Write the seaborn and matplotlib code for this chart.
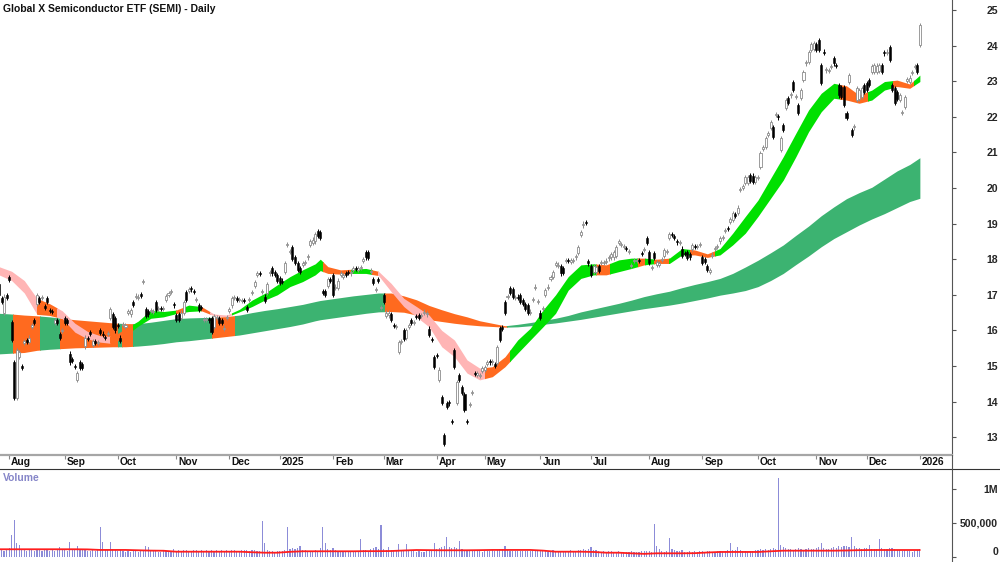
import numpy as np
import pandas as pd
import matplotlib
matplotlib.use("Agg")
import matplotlib.pyplot as plt
from matplotlib.patches import Rectangle
from matplotlib.lines import Line2D
import seaborn as sns

# --- Datos ---
title = "Global X Semiconductor ETF (SEMI) - Daily"

holidays = ['2024-12-25', '2024-12-26', '2025-01-01', '2025-01-27', '2025-04-18',
            '2025-04-21', '2025-04-25', '2025-06-09', '2025-12-25', '2025-12-26', '2026-01-01']

month_labels = ['Aug', 'Sep', 'Oct', 'Nov', 'Dec', '2025', 'Feb', 'Mar', 'Apr', 'May', 'Jun',
                'Jul', 'Aug', 'Sep', 'Oct', 'Nov', 'Dec', '2026']

opens = [
    17.30, 16.90, 16.50, 17.00,
    17.50, 16.24, 15.10, 14.10, 15.25, 15.00, 15.65, 15.72, 15.68, 16.10, 16.30, 16.75, 16.90, 16.90, 16.68, 16.90, 16.58, 16.55, 16.20, 16.30, 15.90, 15.98,
    16.35, 16.30, 15.35, 15.20, 15.00, 14.60, 15.10, 15.05, 15.55, 15.78, 15.95, 15.60, 15.70, 15.65, 16.00, 15.90, 15.80, 15.90, 16.35, 16.45, 16.35,
    16.15, 15.80, 16.15, 16.10, 16.50, 16.45, 16.80, 16.95, 16.90, 17.00, 17.35, 16.60, 16.55, 16.55, 16.52, 16.80, 16.60, 16.62, 16.60, 16.85, 17.00, 17.08, 16.72,
    16.43, 16.45, 16.35, 16.50, 17.07, 17.10, 17.20, 17.10, 16.85, 16.70, 16.63, 16.30, 16.30, 16.30, 16.35, 16.10, 16.35, 16.35, 16.30, 16.05, 16.35,
    16.55, 16.70, 16.90, 16.90, 16.85, 16.82, 16.85, 16.65, 16.85, 17.05, 17.25, 17.55, 17.60, 17.08, 16.95, 17.05, 17.60, 17.75, 17.65, 17.55,
    17.47, 17.40, 17.65, 18.40, 18.20, 18.35, 18.05, 17.90, 17.75, 17.85, 17.90, 18.05, 18.40, 18.45, 18.50, 18.80, 18.75, 17.10, 17.10, 17.25, 17.45,
    17.55, 17.20, 17.20, 17.55, 17.50, 17.60, 17.65, 17.60, 17.70, 17.75, 17.70, 17.75, 17.95, 18.20, 18.20, 17.65, 17.45, 17.13, 17.42, 16.63,
    17.00, 16.40, 16.42, 16.45, 16.15, 16.10, 15.40, 15.67, 16.00, 15.80, 16.10, 16.30, 16.20, 16.40, 16.43, 16.40, 16.50, 16.45, 16.05, 15.73, 15.25,
    15.30, 14.60, 14.13, 13.06, 13.96, 13.96, 13.45, 15.45, 13.96, 14.75, 14.40, 14.20, 13.45, 13.90, 14.24, 14.80, 14.75, 14.72, 14.85,
    14.90, 15.05, 15.12, 15.10, 15.05, 15.08, 16.07, 16.10, 16.80, 16.94, 17.20, 17.15, 16.90, 16.95, 17.00, 16.85, 16.75, 16.70, 16.50, 16.85, 17.20, 16.80,
    16.50, 16.60, 17.00, 17.20, 17.45, 17.50, 17.85, 17.80, 17.80, 17.75, 17.95, 17.98, 17.93, 17.95, 18.05, 18.17, 18.68, 18.95, 19.05, 17.95,
    17.80, 17.65, 17.65, 17.80, 17.90, 17.90, 17.93, 18.02, 18.05, 18.05, 18.10, 18.45, 18.40, 18.35, 18.32, 18.20, 17.80, 17.95, 17.95, 17.98, 18.17, 18.25, 18.60,
    18.20, 17.75, 18.18, 17.85, 17.85, 17.97, 18.10, 18.20, 18.60, 18.70, 18.65, 18.48, 18.45, 18.30, 18.17, 18.20, 18.15, 18.30, 18.38, 18.35, 18.40,
    18.05, 18.00, 17.80, 17.65, 18.10, 18.28, 18.35, 18.50, 18.60, 18.80, 18.87, 19.05, 19.10, 19.26, 19.30, 19.94, 20.00, 20.14, 20.15, 20.37, 20.35, 20.17,
    20.28, 20.59, 21.10, 21.15, 21.50, 21.68, 21.70, 22.05, 22.00, 21.07, 21.77, 22.25, 22.53, 22.60, 22.98, 22.55, 22.33, 22.53, 23.03, 23.50, 23.54, 23.87, 23.90,
    24.05, 24.16, 23.45, 23.82, 23.30, 23.28, 23.40, 23.65, 23.45, 22.90, 22.84, 22.84, 22.10, 22.98, 21.63, 21.70, 22.47, 22.50, 22.55, 22.90,
    22.95, 23.03, 23.26, 23.27, 23.26, 23.28, 23.45, 23.80, 23.80, 23.96, 22.90, 22.80, 22.70, 22.47, 22.10, 22.27, 23.00, 22.98, 23.23, 23.40, 23.45,
    24.02,
]

closes = [
    17.00, 16.80, 16.95, 16.90,
    17.42, 15.73, 14.10, 15.45, 15.40, 14.95, 15.70, 15.68, 15.80, 16.15, 16.20, 17.00, 16.80, 16.92, 16.64, 16.80, 16.55, 16.52, 16.30, 16.20, 15.80, 16.02,
    16.20, 16.20, 15.10, 15.15, 14.97, 14.80, 14.95, 14.95, 15.80, 15.75, 15.90, 15.70, 15.65, 15.68, 15.93, 15.88, 15.78, 15.92, 16.60, 16.10, 16.00,
    16.12, 15.70, 16.15, 16.15, 16.55, 16.57, 16.72, 16.95, 16.95, 16.98, 17.35, 16.40, 16.45, 16.55, 16.55, 16.57, 16.60, 16.60, 16.62, 16.97, 17.05, 17.08, 16.70,
    16.30, 16.30, 16.50, 16.80, 16.85, 17.15, 17.15, 17.07, 16.85, 16.57, 16.62, 16.30, 16.32, 16.28, 15.95, 16.40, 16.35, 16.20, 16.22, 16.05, 16.35,
    16.60, 16.90, 16.92, 16.85, 16.88, 16.85, 16.82, 16.58, 16.88, 17.08, 17.35, 17.60, 17.58, 17.10, 16.82, 17.30, 17.62, 17.60, 17.55, 17.38,
    17.33, 17.35, 17.90, 18.42, 18.22, 18.00, 17.90, 17.70, 17.65, 17.90, 17.92, 18.05, 18.50, 18.55, 18.70, 18.65, 18.60, 17.05, 17.00, 17.45, 17.40,
    17.00, 17.22, 17.40, 17.60, 17.55, 17.55, 17.62, 17.65, 17.75, 17.72, 17.75, 17.78, 18.00, 18.05, 18.03, 17.65, 17.33, 17.13, 17.40, 16.65,
    16.80, 16.50, 16.50, 16.30, 16.12, 16.12, 15.67, 15.70, 15.75, 16.00, 16.15, 16.20, 16.22, 16.38, 16.35, 16.42, 16.50, 16.47, 15.87, 15.72, 14.97,
    15.28, 14.90, 13.97, 12.80, 13.85, 13.95, 13.42, 14.97, 14.55, 14.60, 14.25, 13.77, 13.43, 13.92, 14.25, 14.78, 14.80, 14.75, 14.95,
    14.98, 15.10, 15.10, 15.15, 15.00, 15.53, 15.73, 16.05, 16.50, 16.95, 17.05, 16.95, 16.92, 16.90, 16.80, 16.75, 16.60, 16.50, 16.52, 16.87, 17.22, 16.80,
    16.35, 16.62, 17.13, 17.22, 17.50, 17.65, 17.90, 17.85, 17.60, 17.62, 17.97, 17.95, 17.97, 17.95, 18.06, 18.35, 18.75, 19.00, 19.02, 17.88,
    17.55, 17.80, 17.78, 17.68, 17.90, 17.92, 17.95, 18.03, 18.15, 18.20, 18.35, 18.50, 18.42, 18.35, 18.28, 18.20, 17.80, 17.95, 17.97, 17.95, 18.15, 18.27, 18.45,
    17.90, 17.75, 18.03, 17.92, 17.90, 17.98, 18.25, 18.20, 18.70, 18.68, 18.60, 18.47, 18.48, 18.10, 18.15, 18.03, 18.05, 18.40, 18.35, 18.38, 18.42,
    17.90, 17.92, 17.70, 17.70, 18.12, 18.30, 18.35, 18.60, 18.62, 18.80, 18.85, 19.12, 19.30, 19.22, 19.45, 19.95, 20.05, 20.30, 20.30, 20.20, 20.17, 20.30,
    20.30, 20.98, 21.15, 21.40, 21.55, 21.85, 21.43, 22.05, 21.98, 21.40, 21.63, 22.47, 22.40, 22.62, 22.75, 22.55, 22.10, 22.75, 23.25, 23.54, 23.82, 24.05, 24.07,
    23.88, 23.87, 22.95, 23.80, 23.35, 23.30, 23.42, 23.50, 23.42, 22.60, 22.55, 22.33, 21.97, 23.17, 21.50, 21.72, 22.80, 22.75, 22.80, 22.70,
    22.75, 22.90, 23.42, 23.45, 23.44, 23.45, 23.26, 23.78, 23.82, 23.60, 22.75, 22.40, 22.50, 22.60, 22.10, 22.55, 23.05, 23.10, 23.25, 23.40, 23.26,
    24.58,
]

# volumen diario en miles
volume_k = [
    95, 110, 85, 115,
    135, 320, 542, 197, 172, 115, 100, 85, 105, 95, 90, 110, 95, 85, 100, 105, 90, 95, 85, 100, 140, 110,
    95, 90, 222, 115, 105, 164, 100, 95, 110, 85, 90, 95, 80, 100, 443, 222, 105, 95, 212, 115, 100,
    85, 100, 80, 75, 90, 70, 85, 80, 75, 95, 85, 164, 145, 90, 80, 85, 70, 75, 80, 85, 70, 75, 120,
    90, 100, 85, 95, 105, 90, 85, 100, 95, 90, 105, 85, 95, 90, 100, 85, 95, 90, 100, 85, 95,
    90, 100, 95, 85, 90, 100, 95, 105, 90, 95, 100, 85, 90, 527, 197, 95, 85, 80, 75, 90,
    85, 90, 105, 433, 115, 125, 110, 135, 164, 100, 95, 85, 90, 80, 95, 85, 125, 433, 208, 115, 100,
    135, 95, 85, 80, 75, 85, 80, 70, 75, 85, 80, 261, 95, 105, 90, 115, 125, 149, 110, 468,
    120, 105, 143, 95, 90, 85, 183, 100, 95, 183, 90, 80, 85, 75, 80, 70, 75, 85, 100, 105, 197,
    115, 135, 145, 164, 286, 140, 125, 149, 130, 237, 120, 105, 95, 100, 90, 85, 80, 85, 75,
    85, 80, 90, 95, 85, 95, 115, 110, 164, 100, 85, 90, 80, 85, 90, 80, 85, 90, 80, 85, 90, 85,
    90, 80, 85, 75, 90, 95, 80, 85, 90, 75, 80, 85, 95, 90, 80, 100, 105, 110, 95, 115,
    149, 95, 100, 85, 75, 80, 75, 85, 80, 75, 70, 80, 75, 70, 65, 75, 80, 70, 65, 75, 85, 80, 90,
    85, 75, 478, 164, 115, 85, 75, 80, 272, 115, 100, 85, 80, 95, 70, 75, 80, 70, 85, 75, 80,
    90, 75, 85, 80, 70, 75, 85, 80, 75, 90, 95, 208, 105, 95, 139, 100, 85, 80, 75, 85, 90, 95,
    100, 115, 105, 110, 95, 120, 125, 115, 1170, 175, 139, 125, 115, 110, 105, 120, 125, 110, 100, 115, 125, 110, 120,
    135, 145, 197, 125, 115, 120, 130, 140, 125, 155, 150, 165, 160, 145, 286, 155, 135, 125, 120, 130,
    125, 173, 120, 115, 110, 257, 125, 120, 115, 135, 125, 110, 105, 100, 85, 95, 90, 80, 75, 85, 95,
    120,
]

# bandas de medias (bordes leidos cada ~5 sesiones)
band_idx = sorted(list(range(0, 365, 5)) + [127, 364])

short_hi = [17.79, 17.66, 17.40, 16.90, 16.75, 16.55, 16.20, 15.97, 15.85, 15.83, 16.05, 16.26, 16.57,
            16.53, 16.57, 16.71, 16.67, 16.46, 16.43, 16.59, 16.85, 17.04, 17.28, 17.51, 17.70, 17.87,
            18.00, 17.79, 17.70, 17.72, 17.74, 17.66, 17.32, 16.90, 16.67, 16.43, 16.00, 15.73, 15.17,
            14.94, 14.98, 15.26, 15.73, 16.06, 16.57, 17.00, 17.51, 17.84, 17.87, 17.84, 17.98, 18.03,
            18.03, 18.00, 18.03, 18.30, 18.26, 18.15, 18.30, 18.73, 19.20, 19.66, 20.27, 20.88, 21.54,
            22.19, 22.66, 22.94, 22.87, 22.61, 22.75, 22.99, 23.03, 22.92, 23.17]
short_lo = [17.56, 17.40, 17.05, 16.45, 16.42, 16.33, 15.95, 15.76, 15.67, 15.63, 15.85, 16.12, 16.34,
            16.38, 16.47, 16.53, 16.55, 16.41, 16.38, 16.52, 16.67, 16.85, 17.00, 17.23, 17.37, 17.56,
            17.68, 17.60, 17.58, 17.60, 17.60, 17.54, 17.09, 16.67, 16.38, 16.10, 15.54, 15.26, 14.80,
            14.61, 14.70, 14.98, 15.36, 15.73, 16.10, 16.48, 17.13, 17.46, 17.56, 17.56, 17.65, 17.74,
            17.84, 17.88, 17.88, 18.12, 18.12, 18.05, 18.12, 18.40, 18.73, 19.20, 19.71, 20.22, 20.88,
            21.58, 22.14, 22.52, 22.47, 22.38, 22.47, 22.75, 22.85, 22.80, 22.99]
long_hi = [16.48, 16.46, 16.43, 16.41, 16.38, 16.34, 16.30, 16.27, 16.24, 16.21, 16.19, 16.19, 16.23,
           16.28, 16.33, 16.35, 16.36, 16.37, 16.39, 16.43, 16.50, 16.56, 16.61, 16.67, 16.73, 16.81,
           16.84, 16.87, 16.92, 16.97, 17.01, 17.05, 17.05, 16.97, 16.86, 16.70, 16.58, 16.47, 16.38,
           16.27, 16.20, 16.13, 16.17, 16.22, 16.28, 16.34, 16.42, 16.52, 16.60, 16.68, 16.76, 16.85,
           16.95, 17.03, 17.10, 17.20, 17.29, 17.37, 17.46, 17.60, 17.78, 17.97, 18.18, 18.40, 18.67,
           18.93, 19.22, 19.47, 19.70, 19.87, 20.02, 20.25, 20.48, 20.66, 20.85]
long_lo = [15.34, 15.36, 15.38, 15.44, 15.47, 15.49, 15.51, 15.52, 15.53, 15.54, 15.54, 15.56, 15.59,
           15.63, 15.68, 15.71, 15.75, 15.79, 15.83, 15.87, 15.93, 15.99, 16.05, 16.11, 16.18, 16.27,
           16.30, 16.33, 16.38, 16.43, 16.48, 16.52, 16.53, 16.51, 16.43, 16.30, 16.25, 16.20, 16.16,
           16.13, 16.11, 16.09, 16.10, 16.13, 16.17, 16.21, 16.26, 16.31, 16.37, 16.43, 16.49, 16.55,
           16.61, 16.66, 16.71, 16.77, 16.84, 16.91, 16.99, 17.05, 17.12, 17.23, 17.40, 17.60, 17.85,
           18.09, 18.35, 18.58, 18.77, 18.96, 19.13, 19.28, 19.45, 19.62, 19.71]

# media del volumen (linea roja), en miles
vol_ma_k = [110, 110, 110, 110, 110, 110, 110, 108, 100, 100, 100, 95, 90, 88, 74, 74, 74, 74, 74, 74,
            66, 59, 59, 72, 80, 80, 80, 80, 80, 80, 82, 82, 84, 92, 99, 97, 95, 95, 95, 97, 100, 100,
            100, 100, 90, 74, 74, 74, 70, 59, 59, 50, 42, 50, 50, 50, 52, 62, 70, 70, 70, 70, 80, 89,
            89, 89, 89, 89, 92, 97, 99, 99, 99, 99, 99]

# tramos de color de las bandas (sesion inicio, sesion fin, tipo)
short_segments = [(-1, 15, 'down'), (15, 23, 'mix'), (23, 44, 'down'), (44, 53, 'mix'), (53, 70, 'up'),
                  (70, 73, 'mix'), (73, 80, 'up'), (80, 83.5, 'mix'), (83.5, 92, 'down'), (92, 128, 'up'),
                  (128, 139, 'mix'), (139, 147.5, 'up'), (147.5, 150, 'mix'), (150, 192, 'down'),
                  (192, 202, 'mix'), (202, 236, 'up'), (236, 241.5, 'mix'), (241.5, 252.5, 'up'),
                  (252.5, 255.5, 'mix'), (255.5, 259, 'up'), (259, 265, 'mix'), (265, 273, 'up'),
                  (273, 283, 'mix'), (283, 332.5, 'up'), (332.5, 343.5, 'mix'), (343.5, 353.5, 'up'),
                  (353.5, 361.5, 'mix'), (361.5, 366, 'up')]
long_segments = [(-1, 5.5, 'up'), (5.5, 16.2, 'mix'), (16.2, 24, 'up'), (24, 47, 'mix'), (47, 48.5, 'up'),
                 (48.5, 53, 'mix'), (53, 84, 'up'), (84, 93.3, 'mix'), (93.3, 152.6, 'up'),
                 (152.6, 200.8, 'mix'), (200.8, 366, 'up')]

short_colors = {'up': '#00e000', 'mix': '#ff6a1f', 'down': '#ffb5b5'}
long_colors = {'up': '#3cb371', 'mix': '#ff6a1f'}

assert len(opens) == len(closes) == len(volume_k) == 365
for arr in (short_hi, short_lo, long_hi, long_lo, vol_ma_k):
    assert len(arr) == len(band_idx)

# --- Calendario ---
dates = pd.bdate_range('2024-07-26', '2026-01-02')
dates = dates[~dates.isin(pd.to_datetime(holidays))]
assert len(dates) == len(closes)
month_key = dates.year * 12 + dates.month
month_pos = [i for i in range(1, len(dates)) if month_key[i] != month_key[i - 1]]

# --- Grafica ---
sns.set_theme(style="white")
plt.rcParams['font.family'] = ['Liberation Sans', 'DejaVu Sans']

H = 562.0
fig = plt.figure(figsize=(10, 5.62), dpi=100)
ax = fig.add_axes([0, 1 - 455 / H, 0.952, 455 / H])
axv = fig.add_axes([0, 0, 0.952, 93 / H])
xlim = (0.395, 376.7)


def draw_band(axis, lo, hi, segments, colors, z):
    for s, e, kind in segments:
        poly = axis.fill_between(band_idx, lo, hi, color=colors[kind], lw=0, zorder=z)
        poly.set_clip_path(Rectangle((s, 0), e - s, 100, transform=axis.transData))


draw_band(ax, long_lo, long_hi, long_segments, long_colors, 1)
draw_band(ax, short_lo, short_hi, short_segments, short_colors, 2)

# velas
x = np.arange(len(closes))
o = np.array(opens)
c = np.array(closes)
up = c >= o
body_lo = np.minimum(o, c)
body_h = np.maximum(np.abs(c - o), 0.03)
ax.vlines(x, body_lo - 0.06, body_lo + body_h + 0.06,
          colors=np.where(up, '#8c8c8c', '#000000'), lw=0.7, zorder=3)
ax.bar(x[up], body_h[up], bottom=body_lo[up], width=0.8, color='white',
       edgecolor='#8c8c8c', lw=0.6, zorder=4)
ax.bar(x[~up], body_h[~up], bottom=body_lo[~up], width=0.8, color='black',
       edgecolor='black', lw=0.4, zorder=4)

ax.set_xlim(*xlim)
ax.set_ylim(12.5, 25.28)
ax.yaxis.tick_right()
ax.set_yticks(range(13, 26))
ax.tick_params(axis='y', right=True, left=False, labelright=True, labelleft=False,
               direction='out', length=3, width=0.8, color='#555555', pad=30.2, labelsize=7.6)
for t in ax.get_yticklabels():
    t.set_horizontalalignment('right')
    t.set_fontweight('bold')
ax.set_xticks(month_pos)
ax.tick_params(axis='x', bottom=True, direction='out', length=3, width=0.8,
               color='#888888', labelbottom=False)
for p, lab in zip(month_pos, month_labels):
    ax.text(p + 0.8, -7 / 455, lab, transform=ax.get_xaxis_transform(), ha='left',
            va='center', fontsize=7.4, fontweight='bold', color='#111111')
for side in ('top', 'left'):
    ax.spines[side].set_visible(False)
ax.spines['bottom'].set_color('#a6a6a6')
ax.spines['bottom'].set_linewidth(1.6)
ax.spines['right'].set_color('#555555')
ax.spines['right'].set_linewidth(0.8)

# volumen
vol = np.array(volume_k) * 1000
axv.bar(x, vol, width=0.45, color='#8c8cd8', lw=0, zorder=2)
sns.lineplot(x=band_idx, y=np.array(vol_ma_k) * 1000, ax=axv, color='#ff1e1e', lw=1.3, zorder=3)
axv.set_xlim(*xlim)
axv.set_ylim(-79000, 1301000)
axv.set_xlabel('')
axv.set_ylabel('')
axv.set_xticks([])
axv.yaxis.tick_right()
axv.set_yticks([0, 500000, 1000000])
axv.set_yticklabels(['0', '500,000', '1M'])
axv.tick_params(axis='y', right=True, left=False, labelright=True, labelleft=False,
                direction='out', length=3, width=0.8, color='#555555', pad=30.2, labelsize=7.6)
for t in axv.get_yticklabels():
    t.set_horizontalalignment('right')
    t.set_fontweight('bold')
axv.get_yticklabels()[0].set_verticalalignment('bottom')
for side in ('bottom', 'left'):
    axv.spines[side].set_visible(False)
axv.spines['top'].set_color('#333333')
axv.spines['top'].set_linewidth(0.8)
axv.spines['right'].set_color('#555555')
axv.spines['right'].set_linewidth(0.8)

# lineas de marco fuera de los ejes
fig.add_artist(Line2D([0.952, 1.0], [93 / H, 93 / H], color='#333333', lw=0.8))
fig.add_artist(Line2D([0.952, 0.952], [93 / H, 1 - 455 / H], color='#555555', lw=0.8))

fig.text(3 / 1000, 1 - 8.5 / H, title, ha='left', va='center', fontsize=7.5,
         fontweight='bold', color='#111111')
fig.text(3 / 1000, 1 - 478 / H, 'Volume', ha='left', va='center', fontsize=7.4,
         fontweight='bold', color='#8585c8')

fig.savefig('out.png', dpi=100, facecolor='white')
